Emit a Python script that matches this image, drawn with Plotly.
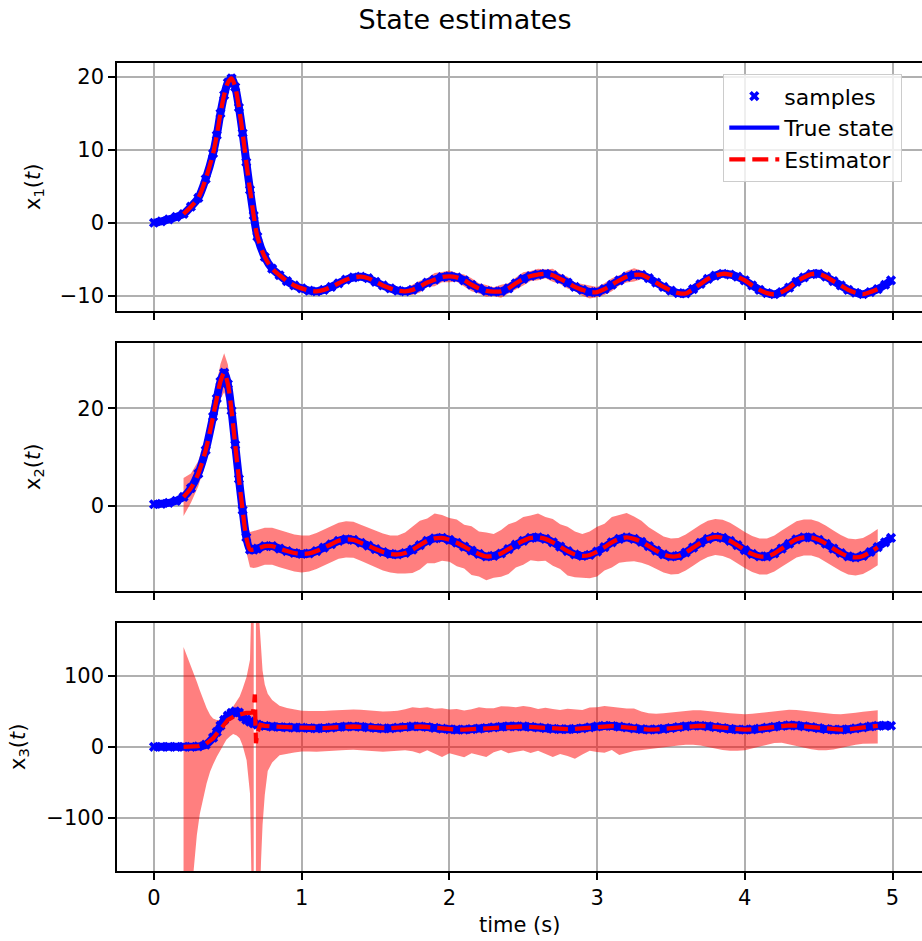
import numpy as np
import plotly.graph_objects as go
from plotly.subplots import make_subplots

# ---------------- data ----------------
T = [0.0, 0.05, 0.1, 0.15, 0.2, 0.25, 0.3, 0.35, 0.4, 0.425, 0.45, 0.475, 0.5, 0.525,
     0.55, 0.575, 0.6, 0.625, 0.65, 0.675, 0.7, 0.75, 0.8, 0.85, 0.9, 0.95, 1.0,
     1.05, 1.1, 1.15, 1.2, 1.25, 1.3, 1.35, 1.4, 1.45, 1.5,
     1.55, 1.6, 1.65, 1.7, 1.75, 1.8, 1.85, 1.9, 1.95, 2.0,
     2.05, 2.1, 2.15, 2.2, 2.25, 2.3, 2.35, 2.4, 2.45, 2.5,
     2.55, 2.6, 2.65, 2.7, 2.75, 2.8, 2.85, 2.9, 2.95, 3.0,
     3.05, 3.1, 3.15, 3.2, 3.25, 3.3, 3.35, 3.4, 3.45, 3.5,
     3.55, 3.6, 3.65, 3.7, 3.75, 3.8, 3.85, 3.9, 3.95, 4.0,
     4.05, 4.1, 4.15, 4.2, 4.25, 4.3, 4.35, 4.4, 4.45, 4.5,
     4.55, 4.6, 4.65, 4.7, 4.75, 4.8, 4.85, 4.9, 4.95, 4.99]

x1 = [0.0, 0.2, 0.45, 0.8, 1.2, 2.2, 3.4, 6.0, 9.5, 12.0, 15.0, 17.5, 19.2, 19.8,
      18.6, 15.8, 12.3, 8.3, 4.5, 1.0, -1.9, -4.7, -6.3, -7.2, -8.0, -8.6, -9.0,
      -9.3, -9.4, -9.2, -8.8, -8.3, -7.8, -7.5, -7.4, -7.6, -8.1,
      -8.6, -9.0, -9.3, -9.4, -9.2, -8.75, -8.2, -7.8, -7.45, -7.35,
      -7.5, -7.9, -8.5, -9.0, -9.35, -9.45, -9.4, -9.0, -8.3, -7.7,
      -7.3, -7.1, -7.0, -7.2, -7.7, -8.2, -8.8, -9.2, -9.5, -9.5,
      -9.1, -8.5, -7.9, -7.4, -7.15, -7.15, -7.6, -8.2, -8.8, -9.3,
      -9.65, -9.7, -9.1, -8.4, -7.7, -7.25, -7.0, -7.1, -7.4, -7.9,
      -8.6, -9.2, -9.65, -9.8, -9.5, -8.9, -8.1, -7.5, -7.05, -7.0,
      -7.4, -8.0, -8.6, -9.2, -9.6, -9.8, -9.5, -9.1, -8.5, -7.9]

x2 = [0.3, 0.4, 0.6, 1.0, 1.8, 3.6, 6.6, 11.4, 18.3, 22.0, 25.5, 27.3, 25.0, 19.5,
      12.5, 5.5, -0.9, -6.5, -9.0, -9.0, -8.8, -8.3, -8.3, -8.8, -9.3, -9.7, -9.9,
      -9.8, -9.3, -8.6, -7.9, -7.2, -6.9, -7.0, -7.6, -8.2, -8.9,
      -9.5, -9.9, -10.0, -9.7, -9.0, -8.1, -7.2, -6.7, -6.6, -7.0,
      -7.6, -8.4, -9.2, -9.9, -10.4, -10.3, -9.8, -8.9, -8.0, -7.2,
      -6.6, -6.5, -6.8, -7.5, -8.4, -9.3, -10.0, -10.3, -10.1, -9.4,
      -8.5, -7.5, -6.8, -6.5, -6.8, -7.4, -8.3, -9.2, -10.0, -10.4,
      -10.3, -9.6, -8.6, -7.6, -6.8, -6.4, -6.6, -7.2, -8.1, -9.1,
      -9.9, -10.4, -10.4, -9.8, -8.8, -7.8, -6.9, -6.5, -6.5, -7.0,
      -7.8, -8.8, -9.7, -10.4, -10.6, -10.3, -9.5, -8.5, -7.5, -6.6]

x3 = [0.0, 0.0, 0.0, 0.0, 0.0, 0.0, 0.5, 3.0, 13.0, 21.0, 30.0, 38.0, 44.0, 48.0,
      50.0, 48.5, 42.5, 38.5, 35.5, 33.0, 31.5, 29.5, 28.6, 28.0, 27.6, 27.2, 27.0,
      26.5, 26.2, 26.5, 27.2, 28.0, 28.6, 28.7, 28.3, 27.5, 26.6,
      26.0, 26.2, 27.0, 28.0, 28.8, 28.7, 28.0, 26.8, 25.6, 24.8,
      24.3, 24.4, 25.0, 25.8, 26.6, 27.5, 28.4, 28.9, 29.0, 28.8,
      28.2, 27.3, 26.3, 25.5, 25.0, 24.9, 25.3, 26.2, 27.5, 28.8,
      29.6, 29.4, 28.5, 27.3, 26.0, 24.9, 24.4, 24.6, 25.4, 26.5,
      27.8, 29.0, 29.8, 29.8, 29.0, 27.8, 26.5, 25.3, 24.5, 24.2,
      24.6, 25.6, 27.0, 28.4, 29.6, 30.3, 30.0, 29.0, 27.7, 26.3,
      25.0, 24.3, 24.2, 24.8, 26.0, 27.4, 28.8, 29.7, 30.0, 29.8]

# estimator confidence half-widths on the estimator grid (t = 0.2 ... 4.9)
x1_hw = [0.3] * 23 + [
    0.3, 0.3, 0.3, 0.3, 0.3, 0.3, 0.3, 0.3, 0.3, 0.3,
    0.3, 0.3, 0.3, 0.4, 0.7, 0.8, 0.6, 0.9, 0.7, 0.8,
    0.6, 0.8, 0.9, 0.7, 0.8, 0.6, 0.9, 0.7, 0.8, 0.9,
    0.7, 0.8, 0.6, 0.9, 0.7, 0.8, 0.6, 0.8, 0.9, 0.7,
    0.8, 0.9, 0.7, 0.8, 0.9, 0.6, 0.4, 0.3, 0.3, 0.3,
    0.3, 0.3, 0.3, 0.3, 0.3, 0.3, 0.3, 0.3, 0.3, 0.3,
    0.3, 0.3, 0.3, 0.3, 0.3, 0.3, 0.3, 0.3, 0.3, 0.3,
    0.3, 0.3, 0.3, 0.3, 0.3, 0.3, 0.3, 0.3]

x2_hw = [3.9, 3.0, 2.6, 2.6, 3.0, 3.3, 3.6, 4.0, 4.0, 3.5, 3.0, 2.6, 2.6, 3.0,
         3.6, 3.8, 3.8, 3.8, 3.8, 3.8, 3.8, 3.8, 3.8,
         3.7, 3.7, 3.7, 3.7, 3.7, 3.7, 3.7, 3.7, 3.7, 3.7,
         3.8, 3.8, 3.9, 4.2, 4.8, 5.0, 4.6, 5.1, 4.7, 4.5,
         4.8, 4.5, 5.0, 4.6, 4.9, 4.5, 4.8, 5.1, 4.7, 4.9,
         4.6, 4.9, 4.5, 4.8, 4.6, 5.0, 4.7, 4.5, 4.8, 5.1,
         4.8, 5.2, 4.9, 5.0, 4.6, 4.3, 3.9, 3.8, 3.7, 3.7,
         3.7, 3.7, 3.7, 3.7, 3.7, 3.7, 3.7, 3.7, 3.7, 3.7,
         3.7, 3.7, 3.7, 3.7, 3.7, 3.7, 3.7, 3.7, 3.7, 3.7,
         3.7, 3.7, 3.7, 3.7, 3.7, 3.7, 3.7, 3.7]

# x3 estimator during the transient (afterwards it follows the true state)
x3_est_t = [0.2, 0.25, 0.3, 0.35, 0.4, 0.45, 0.5, 0.55, 0.6, 0.625, 0.65, 0.67,
            0.678, 0.683, 0.686, 0.69, 0.70, 0.72]
x3_est_v = [0.0, 0.2, 1.0, 4.0, 12.0, 25.0, 38.0, 44.0, 47.0, 48.0, 48.0, 49.0,
            60.0, 74.0, 40.0, 5.0, 20.0, 31.0]

# x3 band, first piece (before the blow-up)
x3_bandA_t = [0.2, 0.225, 0.25, 0.266, 0.29, 0.31, 0.335, 0.356, 0.38, 0.4, 0.425,
              0.447, 0.47, 0.49, 0.515, 0.536, 0.56, 0.58, 0.6, 0.627, 0.65, 0.665, 0.675]
x3_bandA_hi = [141, 128, 113, 104, 92, 80, 66, 55, 45, 40, 38, 38, 41, 45, 51, 57,
               64, 71, 82, 99, 123, 250, 400]
x3_bandA_lo = [-400, -400, -400, -180, -125, -95, -70, -52, -35, -25, -14, -6, 3, 10,
               15, 18, 16, 12, 2, -19, -66, -250, -400]
# x3 band, second piece (after the blow-up, up to t = 1.0)
x3_bandB_t = [0.69, 0.705, 0.714, 0.725, 0.735, 0.75, 0.77, 0.8, 0.85, 0.9, 0.95, 1.0]
x3_bandB_hi = [400, 400, 175, 130, 108, 88, 75, 66, 58, 55, 53, 51]
x3_bandB_lo = [-400, -400, -250, -160, -110, -68, -34, -22, -12, -9.5, -8, -6.7]
# x3 band offsets above / below the estimate for t = 1.05 ... 4.9
x3_up = [24, 24, 24, 24, 24, 24, 24, 24, 24, 24,
         24, 24, 24, 25, 27, 26, 28, 27, 29, 28,
         29, 27, 28, 30, 28, 27, 29, 28, 27, 29,
         28, 26, 29, 28, 27, 29, 28, 26, 28, 27,
         28, 27, 26, 27, 28, 25, 23, 22, 22, 22,
         22, 22, 22, 22, 22, 22, 22, 22, 22, 22,
         22, 22, 22, 22, 22, 22, 22, 22, 22, 22,
         22, 22, 22, 22, 22, 22, 22, 22]
x3_dn = [33, 33, 33, 33, 33, 33, 33, 33, 33, 33,
         33, 33, 33, 33, 35, 38, 33, 36, 40, 34,
         36, 39, 34, 37, 41, 35, 33, 38, 36, 34,
         37, 33, 36, 40, 35, 38, 42, 37, 33, 36,
         38, 34, 40, 36, 32, 30, 28, 27, 26, 26,
         26, 26, 27, 28, 29, 30, 31, 31, 30, 29,
         27, 25, 24, 23, 24, 26, 28, 30, 31, 31,
         30, 28, 26, 24, 23, 23, 24, 25]

# ---------------- build ----------------
Ta = np.array(T)
X1, X2, X3 = np.array(x1), np.array(x2), np.array(x3)
eps = 1e-9
mB = (Ta >= 0.2 - eps) & (Ta <= 4.9 + eps)
TB = Ta[mB]
assert len(TB) == len(x1_hw) == len(x2_hw)

BLUE = "#0000ff"
RED = "#ff0000"
BAND = "rgba(255,0,0,0.5)"

fig = make_subplots(rows=3, cols=1, shared_xaxes=True)


def band(row, t, hi, lo):
    t = list(t)
    hi = list(hi)
    lo = list(lo)
    fig.add_trace(go.Scatter(x=t + t[::-1], y=hi + lo[::-1], fill="toself",
                             fillcolor=BAND, mode="lines",
                             line=dict(width=0, color="rgba(0,0,0,0)"),
                             showlegend=False, hoverinfo="skip"), row=row, col=1)


def main_traces(row, vals, est_t, est_v, est_shape):
    first = row == 1
    # thick band formed by the dense samples along the true state
    fig.add_trace(go.Scatter(x=T, y=vals, mode="lines", showlegend=False, hoverinfo="skip",
                             line=dict(color=BLUE, width=8, shape="spline", smoothing=0.8)),
                  row=row, col=1)
    fig.add_trace(go.Scatter(x=T, y=vals, mode="lines", name="True state",
                             line=dict(color=BLUE, width=4.3, shape="spline", smoothing=0.8),
                             showlegend=first, legendrank=2), row=row, col=1)
    fig.add_trace(go.Scatter(x=T, y=vals, mode="markers", name="samples",
                             marker=dict(symbol="x", size=9, color=BLUE, line=dict(width=0)),
                             showlegend=first, legendrank=1), row=row, col=1)
    fig.add_trace(go.Scatter(x=est_t, y=est_v, mode="lines", name="Estimator",
                             line=dict(color=RED, width=4.3, dash="16px,7px",
                                       shape=est_shape, smoothing=0.8),
                             showlegend=first, legendrank=3), row=row, col=1)


# panel 1
band(1, TB, X1[mB] + np.array(x1_hw), X1[mB] - np.array(x1_hw))
main_traces(1, x1, TB, X1[mB], "spline")
# panel 2
band(2, TB, X2[mB] + np.array(x2_hw), X2[mB] - np.array(x2_hw))
main_traces(2, x2, TB, X2[mB], "spline")
# panel 3
band(3, x3_bandA_t, x3_bandA_hi, x3_bandA_lo)
mT = (Ta >= 1.05 - eps) & (Ta <= 4.9 + eps)
tail_t = Ta[mT]
assert len(tail_t) == len(x3_up) == len(x3_dn)
band(3, list(x3_bandB_t) + list(tail_t),
     list(x3_bandB_hi) + list(X3[mT] + np.array(x3_up)),
     list(x3_bandB_lo) + list(X3[mT] - np.array(x3_dn)))
mE = (Ta >= 0.75 - eps) & (Ta <= 4.9 + eps)
main_traces(3, x3, list(x3_est_t) + list(Ta[mE]), list(x3_est_v) + list(X3[mE]), "linear")

# ---------------- layout (page pixels; body margin removed below) ----------------
W, H = 922, 941
left_px, top_px, bottom_px = 117, 63, 871   # plot area in page pixels
ML, MT, MB, MR = left_px, top_px, H - bottom_px, 0
ph = H - MT - MB
pw = W - ML - MR


def py(y_page):     # page y pixel -> paper fraction
    return (bottom_px - y_page) / ph


def px(x_page):     # page x pixel -> paper fraction
    return (x_page - left_px) / pw


doms = [(py(311), 1.0), (py(591), py(343)), (0.0, py(623))]
yr = [[-12.1, 21.9], [-17.5, 33.4], [-175.5, 175.0]]
yt = [[-10, 0, 10, 20], [0, 20], [-100, 0, 100]]
GRID = "#b0b0b0"
x0_px, per_unit = 154.0, 147.7
xr = [(left_px - x0_px) / per_unit, (W - x0_px) / per_unit]

fig.update_layout(
    width=W, height=H,
    margin=dict(l=ML, r=MR, t=MT, b=MB, autoexpand=False),
    plot_bgcolor="white", paper_bgcolor="white",
    font=dict(family="DejaVu Sans", size=21, color="black"),
    title=dict(text="State estimates", x=465 / W, xref="container",
               xanchor="center", y=1 - 20 / H, yanchor="middle",
               font=dict(size=27, family="DejaVu Sans", color="black")),
    legend=dict(x=px(723), y=py(74), xanchor="left", yanchor="top",
                bgcolor="rgba(255,255,255,0.8)", bordercolor="#cccccc", borderwidth=1.3,
                font=dict(size=22, family="DejaVu Sans"), tracegroupgap=0, itemwidth=50),
    showlegend=True,
)

for i in range(3):
    r = i + 1
    fig.update_xaxes(row=r, col=1, range=xr, tickvals=[0, 1, 2, 3, 4, 5],
                     showgrid=True, gridcolor=GRID, gridwidth=1.5, zeroline=False,
                     showline=True, mirror=True, linecolor="black", linewidth=1.6,
                     ticks="outside", ticklen=7, tickwidth=1.6, tickcolor="black",
                     showticklabels=(r == 3), automargin=False)
    fig.update_yaxes(row=r, col=1, domain=list(doms[i]), range=yr[i], tickvals=yt[i],
                     ticktext=[str(v).replace("-", "\u2212") for v in yt[i]],
                     showgrid=True, gridcolor=GRID, gridwidth=1.5, zeroline=False,
                     showline=True, mirror=False, linecolor="black", linewidth=1.6,
                     ticks="outside", ticklen=7, tickwidth=1.6, tickcolor="black",
                     automargin=False)

ylabels = ["x<sub>1</sub>(<i>t</i>)", "x<sub>2</sub>(<i>t</i>)", "x<sub>3</sub>(<i>t</i>)"]
ylab_px = [34, 34, 19]
for i in range(3):
    fig.add_annotation(text=ylabels[i], textangle=-90, xref="paper", yref="paper",
                       x=px(ylab_px[i]), y=(doms[i][0] + doms[i][1]) / 2,
                       xanchor="center", yanchor="middle", showarrow=False,
                       font=dict(size=21, family="DejaVu Sans"))

fig.add_annotation(text="time (s)", xref="paper", yref="paper",
                   x=px(519), y=py(925),
                   xanchor="center", yanchor="middle", showarrow=False,
                   font=dict(size=21, family="DejaVu Sans"))

fig.write_html("out.html",
               config={"displayModeBar": False},
               post_script="document.body.style.margin='0px';"
                           "document.body.style.overflow='hidden';")
